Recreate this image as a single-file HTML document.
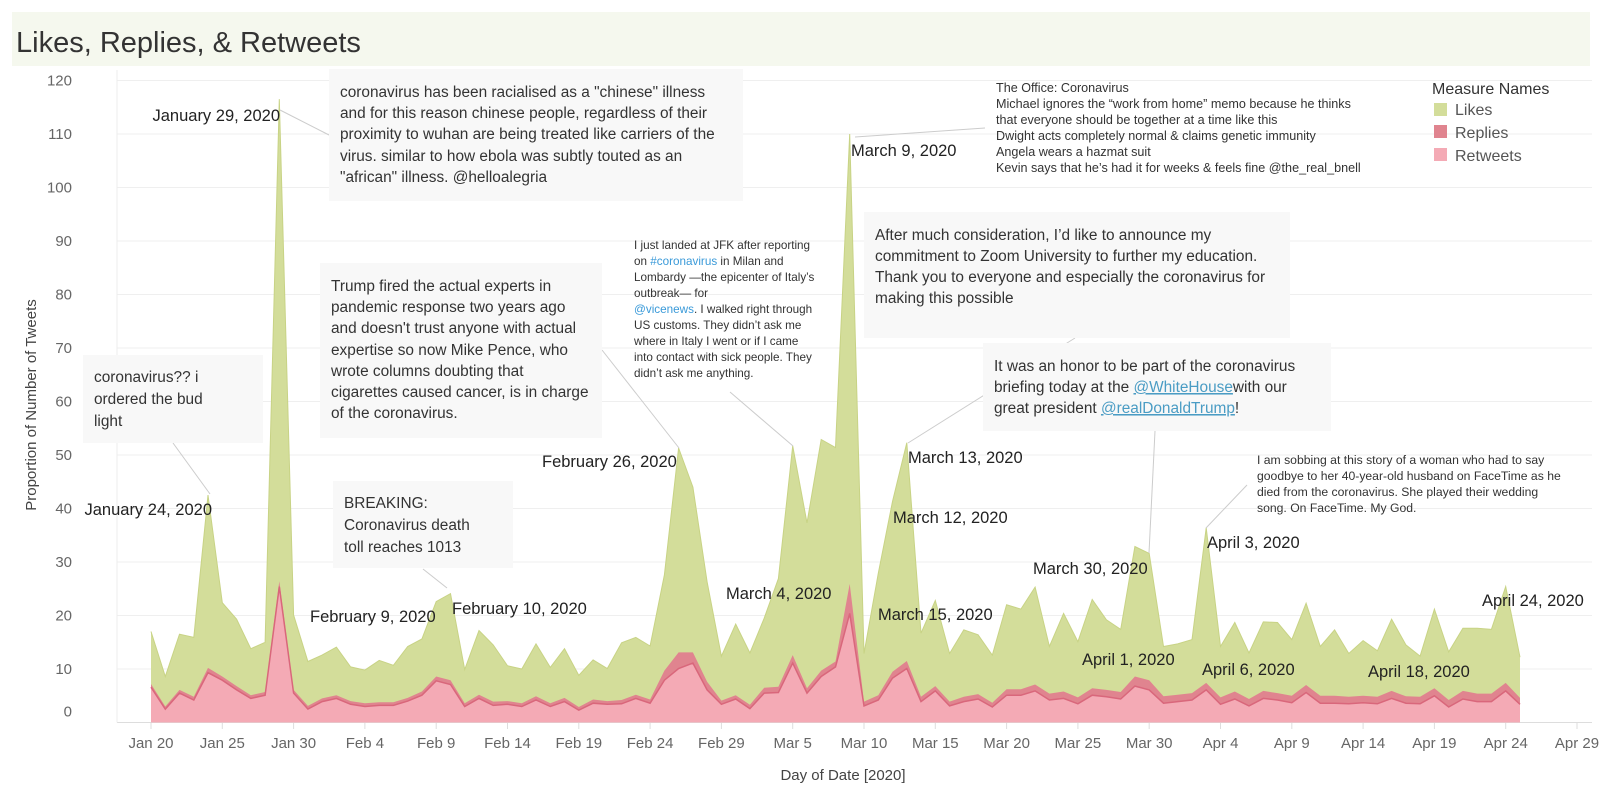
<!DOCTYPE html>
<html><head><meta charset="utf-8">
<style>
html,body{margin:0;padding:0;background:#fff;width:1600px;height:800px;overflow:hidden;font-family:"Liberation Sans",sans-serif;}
svg text{font-family:"Liberation Sans",sans-serif;}
</style></head>
<body>
<svg id="chart" width="1600" height="800" xmlns="http://www.w3.org/2000/svg">
  <rect x="12" y="12" width="1578" height="54" fill="#f5f8ee"/>
  <text x="16" y="52" font-size="29" fill="#333">Likes, Replies, &amp; Retweets</text>
  <g id="grid"></g>
  <g id="areas"></g>
  <g id="axes"></g>
  <g id="annos"></g>
</svg>
<script>
const startDate = new Date(2020,0,20);
const likes = [17.0,8.6,16.5,15.9,42.5,22.4,19.3,13.8,15.0,116.5,20.1,11.4,12.6,14.1,10.4,9.8,11.6,10.7,14.2,15.6,22.6,24.1,9.9,17.2,14.5,10.6,10.0,14.7,10.3,13.8,8.8,11.7,10.1,14.9,15.9,14.3,27.6,51.3,44.0,26.3,12.4,18.4,13.0,19.5,26.9,51.7,37.3,52.9,51.4,110,12.9,27.9,41.3,52.3,16.7,22.8,12.9,17.3,16.4,12.6,22.0,21.2,25.3,14.2,20.4,15.1,23.0,19.2,17.4,32.9,31.6,14.2,14.7,15.5,36.4,14.2,18.7,13.0,18.8,18.7,15.5,22.3,14.2,17.3,12.9,15.3,13.4,19.3,14.5,12.4,21.2,13.2,17.6,17.6,17.4,25.4,12.2];
const replies = [7.2,3.0,6.1,4.8,10.2,8.6,6.8,5.1,5.7,26.4,6.1,3.1,4.5,5.1,4.0,3.6,3.8,3.8,4.6,5.8,8.6,7.9,3.6,5.2,3.9,4.0,3.6,4.9,3.6,4.6,2.9,4.3,4.0,4.2,5.2,4.3,9.7,13.1,13.1,7.6,4.1,5.1,3.3,6.5,6.7,12.6,6.4,9.7,11.4,25.9,3.9,5.1,9.5,11.5,4.8,6.8,3.9,4.8,5.3,3.7,6.2,6.2,7.1,5.4,5.8,4.7,6.4,6.1,5.7,8.6,7.9,4.9,5.2,5.5,7.4,4.7,5.8,4.4,5.9,5.5,5.0,7.0,5.0,5.0,4.8,5.0,4.8,5.9,4.9,4.8,6.4,4.2,5.9,5.4,5.4,7.4,4.6];
const retweets = [6.6,2.5,5.5,4.2,9.3,7.9,6.1,4.5,5.1,25.4,5.5,2.5,3.9,4.5,3.4,3.0,3.2,3.2,4.0,5.1,7.8,7.1,3.0,4.5,3.2,3.4,3.0,4.2,3.0,3.9,2.3,3.6,3.4,3.5,4.5,3.6,7.9,10.1,11.1,6.1,3.4,4.4,2.6,5.5,5.6,11.1,5.5,8.6,10.4,20.4,3.1,4.2,8.3,10.1,3.9,5.9,3.1,3.9,4.4,2.9,5.1,5.1,5.9,4.2,4.5,3.5,5.1,4.8,4.4,6.8,6.1,3.6,3.9,4.2,6.1,3.4,4.4,3.1,4.5,4.2,3.7,5.6,3.6,3.6,3.5,3.7,3.5,4.5,3.6,3.5,5.0,2.9,4.4,3.9,3.9,5.9,3.4];
const yTicks = [0,10,20,30,40,50,60,70,80,90,100,110,120];
const xTickLabels = ["Jan 20","Jan 25","Jan 30","Feb 4","Feb 9","Feb 14","Feb 19","Feb 24","Feb 29","Mar 5","Mar 10","Mar 15","Mar 20","Mar 25","Mar 30","Apr 4","Apr 9","Apr 14","Apr 19","Apr 24","Apr 29"];
const xTickDays = [0,5,10,15,20,25,30,35,40,45,50,55,60,65,70,75,80,85,90,95,100];

const NS="http://www.w3.org/2000/svg";
const X0=151, DX=14.26, Y0=722.5, DY=5.35;
function xs(d){return X0+d*DX;}
function ys(v){return Y0-v*DY;}
function mk(tag,attrs,parent){const e=document.createElementNS(NS,tag);for(const k in attrs)e.setAttribute(k,attrs[k]);parent.appendChild(e);return e;}

const grid=document.getElementById('grid'), axes=document.getElementById('axes'), areas=document.getElementById('areas');
yTicks.forEach(t=>{
  const l=mk('line',{x1:117,x2:1592,y1:ys(t),y2:ys(t),stroke:t===0?'#ddd':'#efefef','stroke-width':1},grid);
  
  
  const tx=mk('text',{x:72,y:(t===0?ys(t)-6:ys(t)+5),'text-anchor':'end','font-size':15,fill:'#666'},axes);
  tx.textContent=t;
  
  
});
const ya=mk('line',{x1:117,x2:117,y1:70,y2:722.5,stroke:'#eee'},axes);


xTickLabels.forEach((lab,i)=>{
  const d=xTickDays[i];
  const tk=mk('line',{x1:xs(d),x2:xs(d),y1:722.5,y2:729,stroke:'#ddd'},axes);
  
  
  const tx=mk('text',{x:xs(d),y:748,'text-anchor':'middle','font-size':15,fill:'#666'},axes);
  tx.textContent=lab;
  
  
});
const xt=mk('text',{x:843,y:780,'text-anchor':'middle','font-size':15,fill:'#444'},axes);
xt.textContent='Day of Date [2020]';


const yt=mk('text',{x:0,y:0,'text-anchor':'middle','font-size':15,fill:'#444',transform:'translate(36,405) rotate(-90)'},axes);
yt.textContent='Proportion of Number of Tweets';



function areaPath(arr){
  let p='M'+xs(0)+','+ys(0);
  arr.forEach((v,i)=>{p+=' L'+xs(i).toFixed(1)+','+ys(v).toFixed(1);});
  p+=' L'+xs(arr.length-1).toFixed(1)+','+ys(0)+' Z';return p;
}
function linePath(arr){return arr.map((v,i)=>(i?'L':'M')+xs(i).toFixed(1)+','+ys(v).toFixed(1)).join(' ');}
const la=mk('path',{d:areaPath(likes),fill:'#d3dd9a'},areas);


const ll=mk('path',{d:linePath(likes),fill:'none',stroke:'#c8d385','stroke-width':1},areas);


const ra=mk('path',{d:areaPath(replies),fill:'#e0848f'},areas);


const ta=mk('path',{d:areaPath(retweets),fill:'#f4aab5'},areas);


const tl=mk('path',{d:linePath(retweets),fill:'none',stroke:'#d9677b','stroke-width':1.5},areas);


</script>
<svg width="1600" height="800" style="position:absolute;left:0;top:0" xmlns="http://www.w3.org/2000/svg">
  <g stroke="#ccc" stroke-width="1" fill="none">
    <line x1="280" y1="110" x2="329" y2="135"/>
    <line x1="173" y1="443" x2="210" y2="494"/>
    <line x1="423" y1="569" x2="447" y2="588"/>
    <line x1="602" y1="350" x2="679" y2="448"/>
    <line x1="730" y1="392" x2="793" y2="446"/>
    <line x1="855" y1="137" x2="985" y2="128"/>
    <line x1="1075" y1="338" x2="908" y2="443"/>
    <line x1="1155" y1="431" x2="1149" y2="553"/>
    <line x1="1247" y1="485" x2="1206" y2="528"/>
  </g>
  <g font-size="15.4" fill="#333" font-family="Liberation Sans, sans-serif">
    <g>
      <rect x="329" y="69" width="414" height="132" fill="#f8f8f8"/>
      <text x="340" y="97">coronavirus has been racialised as a "chinese" illness</text>
      <text x="340" y="118">and for this reason chinese people, regardless of their</text>
      <text x="340" y="139">proximity to wuhan are being treated like carriers of the</text>
      <text x="340" y="161">virus. similar to how ebola was subtly touted as an</text>
      <text x="340" y="182">"african" illness. @helloalegria</text>
    </g>
    <g>
      <rect x="320" y="263" width="282" height="175" fill="#f8f8f8"/>
      <text x="331" y="291">Trump fired the actual experts in</text>
      <text x="331" y="312">pandemic response two years ago</text>
      <text x="331" y="333">and doesn't trust anyone with actual</text>
      <text x="331" y="355">expertise so now Mike Pence, who</text>
      <text x="331" y="376">wrote columns doubting that</text>
      <text x="331" y="397">cigarettes caused cancer, is in charge</text>
      <text x="331" y="418">of the coronavirus.</text>
    </g>
    <g>
      <rect x="83" y="355" width="180" height="88" fill="#f8f8f8"/>
      <text x="94" y="382">coronavirus?? i</text>
      <text x="94" y="404">ordered the bud</text>
      <text x="94" y="426">light</text>
    </g>
    <g>
      <rect x="333" y="481" width="180" height="87" fill="#f8f8f8"/>
      <text x="344" y="508">BREAKING:</text>
      <text x="344" y="530">Coronavirus death</text>
      <text x="344" y="552">toll reaches 1013</text>
    </g>
    <g>
      <rect x="864" y="212" width="426" height="126" fill="#f8f8f8"/>
      <text x="875" y="240">After much consideration, I’d like to announce my</text>
      <text x="875" y="261">commitment to Zoom University to further my education.</text>
      <text x="875" y="282">Thank you to everyone and especially the coronavirus for</text>
      <text x="875" y="303">making this possible</text>
    </g>
    <g>
      <rect x="983" y="343" width="348" height="88" fill="#f8f8f8"/>
      <text x="994" y="371">It was an honor to be part of the coronavirus</text>
      <text x="994" y="392">briefing today at the <tspan fill="#4a9cc4" text-decoration="underline">@WhiteHouse</tspan>with our</text>
      <text x="994" y="413">great president <tspan fill="#4a9cc4" text-decoration="underline">@realDonaldTrump</tspan>!</text>
    </g>
  </g>
  <g font-size="12.2" fill="#333" font-family="Liberation Sans, sans-serif">
    <g font-size="11.7">
      <text x="634" y="249">I just landed at JFK after reporting</text>
      <text x="634" y="265">on <tspan fill="#3a9ad9">#coronavirus</tspan> in Milan and</text>
      <text x="634" y="281">Lombardy —the epicenter of Italy’s</text>
      <text x="634" y="297">outbreak— for</text>
      <text x="634" y="313"><tspan fill="#3a9ad9">@vicenews</tspan>. I walked right through</text>
      <text x="634" y="329">US customs. They didn’t ask me</text>
      <text x="634" y="345">where in Italy I went or if I came</text>
      <text x="634" y="361">into contact with sick people. They</text>
      <text x="634" y="377">didn’t ask me anything.</text>
    </g>
    <g font-size="12.6">
      <text x="996" y="92">The Office: Coronavirus</text>
      <text x="996" y="108">Michael ignores the “work from home” memo because he thinks</text>
      <text x="996" y="124">that everyone should be together at a time like this</text>
      <text x="996" y="140">Dwight acts completely normal &amp; claims genetic immunity</text>
      <text x="996" y="156">Angela wears a hazmat suit</text>
      <text x="996" y="172">Kevin says that he’s had it for weeks &amp; feels fine @the_real_bnell</text>
    </g>
    <g>
      <text x="1257" y="464">I am sobbing at this story of a woman who had to say</text>
      <text x="1257" y="480">goodbye to her 40-year-old husband on FaceTime as he</text>
      <text x="1257" y="496">died from the coronavirus. She played their wedding</text>
      <text x="1257" y="512">song. On FaceTime. My God.</text>
    </g>
  </g>
  <g font-size="16.5" fill="#222" font-family="Liberation Sans, sans-serif">
    <text x="280" y="121" text-anchor="end">January 29, 2020</text>
    <text x="212" y="515" text-anchor="end">January 24, 2020</text>
    <text x="310" y="622">February 9, 2020</text>
    <text x="452" y="614">February 10, 2020</text>
    <text x="542" y="467">February 26, 2020</text>
    <text x="726" y="599">March 4, 2020</text>
    <text x="851" y="156">March 9, 2020</text>
    <text x="908" y="463">March 13, 2020</text>
    <text x="893" y="523">March 12, 2020</text>
    <text x="878" y="620">March 15, 2020</text>
    <text x="1033" y="574">March 30, 2020</text>
    <text x="1082" y="665">April 1, 2020</text>
    <text x="1207" y="548">April 3, 2020</text>
    <text x="1202" y="675">April 6, 2020</text>
    <text x="1368" y="677">April 18, 2020</text>
    <text x="1482" y="606">April 24, 2020</text>
  </g>
  <g font-family="Liberation Sans, sans-serif">
    <text x="1432" y="94" font-size="16" fill="#333">Measure Names</text>
    <g>
      <rect x="1434" y="103" width="13" height="13" fill="#d3dd9a"/>
      <text x="1455" y="115" font-size="16" fill="#555">Likes</text>
    </g>
    <g>
      <rect x="1434" y="125" width="13" height="13" fill="#e0848f"/>
      <text x="1455" y="138" font-size="16" fill="#555">Replies</text>
    </g>
    <g>
      <rect x="1434" y="148" width="13" height="13" fill="#f4aab5"/>
      <text x="1455" y="161" font-size="16" fill="#555">Retweets</text>
    </g>
  </g>
</svg>
</body></html>
